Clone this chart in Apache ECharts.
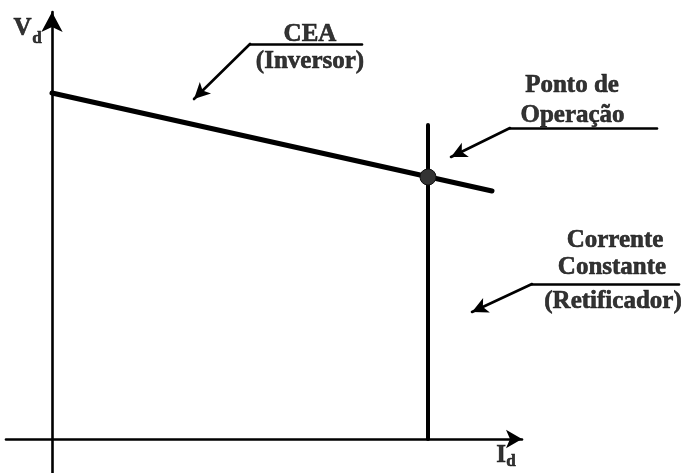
<!DOCTYPE html>
<html>
<head>
<meta charset="utf-8">
<script src="https://cdn.jsdelivr.net/npm/echarts@6/dist/echarts.min.js"></script>
<style>
html,body{margin:0;padding:0;background:#fff;}
#chart{width:688px;height:473px;}
</style>
</head>
<body>
<div id="chart"></div>
<script>
// ---- data (Id, Vd in arbitrary units) ----
const ceaId = [0, 44.0];
const ceaVd = [34.6, 24.8];
const ccId = [37.6, 37.6];
const ccVd = [0, 31.4];
const opPoint = [37.6, 26.2];

// axes (start, arrow tip)
const axisIdLine = [[-4.6, 0], [47.0, 0]];
const axisVdLine = [[0, -3.4], [0, 42.7]];

// annotation pointers: underline end, corner, arrow tip
const pointerCEA = [[31.0, 39.5], [19.8, 39.5], [14.2, 34.0]];
const pointerOp = [[60.5, 31.1], [45.8, 31.1], [39.9, 28.2]];
const pointerCC = [[62.7, 15.5], [48.0, 15.5], [42.0, 12.7]];

// annotation texts
const noteTexts = ['CEA', '(Inversor)', 'Ponto de', 'Operação', 'Corrente', 'Constante', '(Retificador)'];
const noteId = [25.8, 25.8, 52.0, 52.05, 56.3, 56.0, 56.1];
const noteVd = [40.4, 37.7, 35.35, 32.35, 19.85, 17.1, 13.7];

// axis titles: main letter and subscript
const axisTitleTexts = ['V', 'd', 'I', 'd'];
const axisTitleId = [-2.95, -1.5, 44.9, 45.9];
const axisTitleVd = [41.0, 40.05, -1.7, -2.3];

// ---- build ----
const FONT = 'Liberation Serif';
function seg(a, b, arrow, size) {
  return [
    { coord: a, symbol: 'none' },
    { coord: b, symbol: arrow ? 'arrow' : 'none', symbolSize: size }
  ];
}
function pointer(p) {
  return [seg(p[0], p[1], false), seg(p[1], p[2], true, [12, 16])];
}

const labelData = noteTexts.map((t, i) => ({
  value: [noteId[i], noteVd[i], t],
  label: { fontSize: 25 }
})).concat(axisTitleTexts.map((t, i) => ({
  value: [axisTitleId[i], axisTitleVd[i], t],
  label: { fontSize: i % 2 === 0 ? 25 : 17 }
})));

const chart = echarts.init(document.getElementById('chart'));
chart.setOption({
  animation: false,
  backgroundColor: '#fff',
  grid: { left: 0, right: 0, top: 0, bottom: 0 },
  xAxis: { type: 'value', min: -5.2, max: 63.6, show: false },
  yAxis: { type: 'value', min: -3.4, max: 43.9, show: false },
  series: [
    {
      name: 'CEA (Inversor)',
      type: 'line',
      clip: false,
      data: ceaId.map((x, i) => [x, ceaVd[i]]),
      symbol: 'none',
      lineStyle: { color: '#000', width: 5, cap: 'round' },
      z: 3
    },
    {
      name: 'Corrente Constante (Retificador)',
      type: 'line',
      clip: false,
      data: ccId.map((x, i) => [x, ccVd[i]]),
      symbol: 'none',
      lineStyle: { color: '#000', width: 4, cap: 'round' },
      z: 3
    },
    {
      name: 'Ponto de Operação',
      type: 'scatter',
      clip: false,
      data: [opPoint],
      symbolSize: 16,
      itemStyle: { color: '#333', borderColor: '#111', borderWidth: 1, opacity: 1 },
      z: 5
    },
    {
      name: 'labels',
      type: 'scatter',
      clip: false,
      data: labelData,
      symbolSize: 1,
      itemStyle: { color: 'transparent' },
      label: {
        show: true,
        position: 'inside',
        formatter: p => p.value[2],
        fontFamily: FONT,
        fontWeight: 'bold',
        color: '#000',
        textBorderColor: '#000',
        textBorderWidth: 0.6,
        align: 'center',
        verticalAlign: 'middle'
      },
      emphasis: { disabled: true },
      silent: true,
      markLine: {
        silent: true,
        animation: false,
        label: { show: false },
        emphasis: { disabled: true },
        lineStyle: { color: '#000', width: 2.6, type: 'solid', cap: 'round', opacity: 1 },
        data: [
          seg(axisIdLine[0], axisIdLine[1], true, [14, 16]),
          seg(axisVdLine[0], axisVdLine[1], true, [16, 20])
        ].concat(pointer(pointerCEA), pointer(pointerOp), pointer(pointerCC))
      },
      z: 4
    }
  ]
});
</script>
</body>
</html>
